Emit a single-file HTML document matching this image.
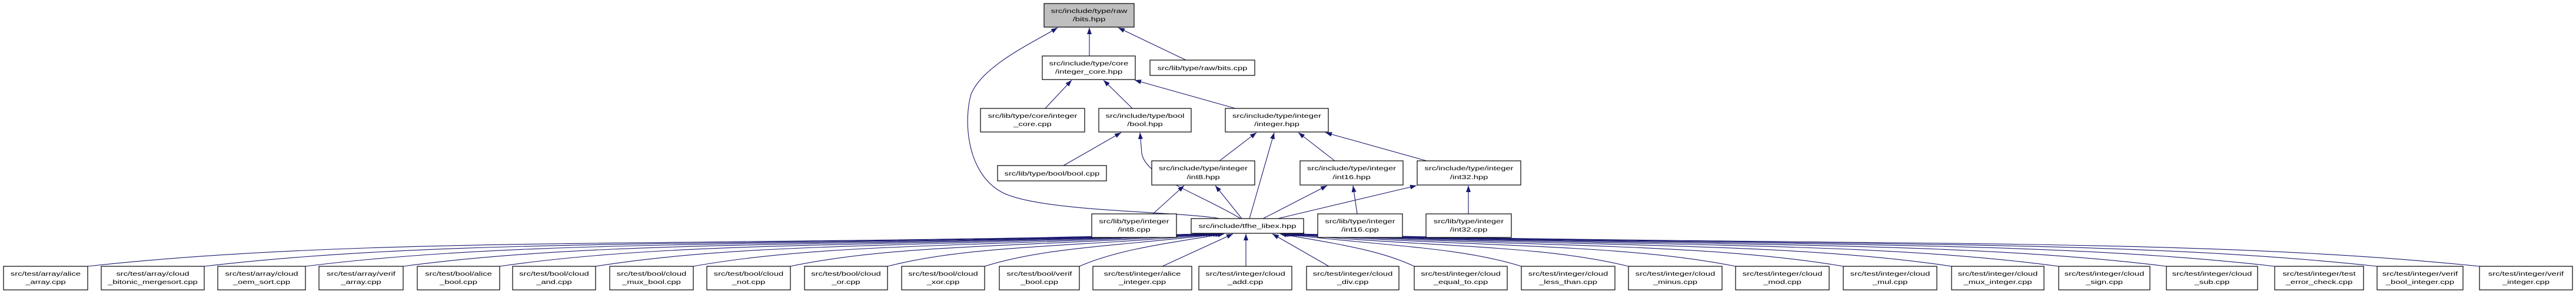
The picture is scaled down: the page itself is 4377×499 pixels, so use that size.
<!DOCTYPE html>
<html><head><meta charset="utf-8"><style>
html,body{margin:0;padding:0;background:#fff;}
svg{display:block;}
text{font-family:"Liberation Sans",sans-serif;font-size:10px;fill:#000;text-anchor:middle;}
.b{fill:#fff;stroke:#000;stroke-width:1.2;}
.e{fill:none;stroke:#191970;stroke-width:1.1;marker-end:url(#a);}
</style></head><body>
<svg width="4377" height="499" viewBox="0 0 4377 499" xmlns="http://www.w3.org/2000/svg">
<defs><marker id="a" markerUnits="userSpaceOnUse" markerWidth="12" markerHeight="8" refX="11" refY="4" orient="auto"><path d="M0,0 L11,4 L0,8 z" fill="#191970"/></marker></defs>

<!-- upper edges -->
<path class="e" d="M1851,95 L1851,47"/>
<path class="e" d="M2015,102 L1900,47"/>
<path class="e" d="M2072,371 C2000,358 1760,360 1700,325 C1640,290 1638,200 1650,160 C1670,110 1760,70 1797,47"/>
<path class="e" d="M1776,184 L1821,136"/>
<path class="e" d="M1924,184 L1875,136"/>
<path class="e" d="M2099,184 L1928,136"/>
<path class="e" d="M1807,281 L1905,225"/>
<path class="e" d="M2108,371 C2040,330 1945,300 1940,260 L1937,225"/>
<path class="e" d="M2072,273 L2135,225"/>
<path class="e" d="M2123,371 L2165,225"/>
<path class="e" d="M2268,273 L2206,225"/>
<path class="e" d="M2424,273 L2252,225"/>
<path class="e" d="M1959,363 L2012,315"/>
<path class="e" d="M2110,371 L2065,315"/>
<path class="e" d="M2146,371 L2255,315"/>
<path class="e" d="M2171,371 L2407,315"/>
<path class="e" d="M2306,363 L2299,315"/>
<path class="e" d="M2495,363 L2495,315"/>

<!-- bottom edges -->
<path class="e" d="M149,452 C622,400 1189,420 2040,397"/>
<path class="e" d="M347,452 C771,402 1280,420 2044,397"/>
<path class="e" d="M519,452 C901,404 1360,420 2048,397"/>
<path class="e" d="M685,452 C1027,406 1437,420 2052,397"/>
<path class="e" d="M849,452 C1151,408 1513,420 2056,397"/>
<path class="e" d="M1012,452 C1274,410 1588,420 2060,397"/>
<path class="e" d="M1178,452 C1400,412 1665,420 2064,397"/>
<path class="e" d="M1343,452 C1524,414 1742,420 2068,397"/>
<path class="e" d="M1508,452 C1649,416 1818,420 2072,397"/>
<path class="e" d="M1673,452 C1774,420 1895,418 2076,397"/>
<path class="e" d="M1834,452 C1896,425 1969,415 2080,397"/>
<path class="e" d="M1975,452 L2095,397"/>
<path class="e" d="M2117,452 L2117,397"/>
<path class="e" d="M2258,452 L2162,397"/>
<path class="e" d="M2403,452 C2346,425 2278,415 2175,397"/>
<path class="e" d="M2585,452 C2483,420 2361,418 2178,397"/>
<path class="e" d="M2767,452 C2621,416 2445,420 2181,397"/>
<path class="e" d="M2949,452 C2758,414 2528,420 2184,397"/>
<path class="e" d="M3132,452 C2896,412 2612,420 2187,397"/>
<path class="e" d="M3316,452 C3034,410 2697,420 2190,397"/>
<path class="e" d="M3498,452 C3172,408 2780,420 2193,397"/>
<path class="e" d="M3681,452 C3310,406 2864,420 2196,397"/>
<path class="e" d="M3865,452 C3448,404 2949,420 2199,397"/>
<path class="e" d="M4039,452 C3580,402 3029,420 2202,397"/>
<path class="e" d="M4213,452 C3711,400 3109,420 2205,397"/>

<!-- upper nodes -->
<rect x="1774" y="6" width="153" height="40" fill="#bfbfbf" stroke="#000" stroke-width="1.2"/>
<g transform="translate(1850.5,0) scale(1.47,1)"><text y="22">src/include/type/raw</text><text y="36">/bits.hpp</text></g>

<rect class="b" x="1771" y="95" width="158" height="40"/>
<g transform="translate(1850,0) scale(1.47,1)"><text y="111">src/include/type/core</text><text y="125">/integer_core.hpp</text></g>

<rect class="b" x="1954" y="102" width="178" height="26"/>
<g transform="translate(2043,0) scale(1.47,1)"><text y="119">src/lib/type/raw/bits.cpp</text></g>

<rect class="b" x="1666" y="184" width="177" height="40"/>
<g transform="translate(1754.5,0) scale(1.47,1)"><text y="200">src/lib/type/core/integer</text><text y="214">_core.cpp</text></g>

<rect class="b" x="1867" y="184" width="157" height="40"/>
<g transform="translate(1945.5,0) scale(1.47,1)"><text y="200">src/include/type/bool</text><text y="214">/bool.hpp</text></g>

<rect class="b" x="2082" y="184" width="175" height="40"/>
<g transform="translate(2169.5,0) scale(1.47,1)"><text y="200">src/include/type/integer</text><text y="214">/integer.hpp</text></g>

<rect class="b" x="1695" y="281" width="185" height="26"/>
<g transform="translate(1787.5,0) scale(1.47,1)"><text y="298">src/lib/type/bool/bool.cpp</text></g>

<rect class="b" x="1957" y="273" width="175" height="41"/>
<g transform="translate(2044.5,0) scale(1.47,1)"><text y="289">src/include/type/integer</text><text y="304">/int8.hpp</text></g>

<rect class="b" x="2209" y="273" width="175" height="41"/>
<g transform="translate(2296.5,0) scale(1.47,1)"><text y="289">src/include/type/integer</text><text y="304">/int16.hpp</text></g>

<rect class="b" x="2408" y="273" width="176" height="41"/>
<g transform="translate(2496,0) scale(1.47,1)"><text y="289">src/include/type/integer</text><text y="304">/int32.hpp</text></g>

<rect class="b" x="1855" y="363" width="144" height="40"/>
<g transform="translate(1927,0) scale(1.47,1)"><text y="379">src/lib/type/integer</text><text y="393">/int8.cpp</text></g>

<rect class="b" x="2024" y="371" width="191" height="25"/>
<g transform="translate(2119.5,0) scale(1.47,1)"><text y="387">src/include/tfhe_libex.hpp</text></g>

<rect class="b" x="2239" y="363" width="144" height="40"/>
<g transform="translate(2311,0) scale(1.47,1)"><text y="379">src/lib/type/integer</text><text y="393">/int16.cpp</text></g>

<rect class="b" x="2423" y="363" width="145" height="40"/>
<g transform="translate(2495.5,0) scale(1.47,1)"><text y="379">src/lib/type/integer</text><text y="393">/int32.cpp</text></g>

<!-- bottom nodes -->
<rect class="b" x="6" y="452" width="143" height="40"/><g transform="translate(77.5,0) scale(1.47,1)"><text y="468">src/test/array/alice</text><text y="482">_array.cpp</text></g>
<rect class="b" x="172" y="452" width="175" height="40"/><g transform="translate(259.5,0) scale(1.47,1)"><text y="468">src/test/array/cloud</text><text y="482">_bitonic_mergesort.cpp</text></g>
<rect class="b" x="370" y="452" width="149" height="40"/><g transform="translate(444.5,0) scale(1.47,1)"><text y="468">src/test/array/cloud</text><text y="482">_oem_sort.cpp</text></g>
<rect class="b" x="542" y="452" width="143" height="40"/><g transform="translate(613.5,0) scale(1.47,1)"><text y="468">src/test/array/verif</text><text y="482">_array.cpp</text></g>
<rect class="b" x="709" y="452" width="140" height="40"/><g transform="translate(779,0) scale(1.47,1)"><text y="468">src/test/bool/alice</text><text y="482">_bool.cpp</text></g>
<rect class="b" x="871" y="452" width="141" height="40"/><g transform="translate(941.5,0) scale(1.47,1)"><text y="468">src/test/bool/cloud</text><text y="482">_and.cpp</text></g>
<rect class="b" x="1036" y="452" width="142" height="40"/><g transform="translate(1107,0) scale(1.47,1)"><text y="468">src/test/bool/cloud</text><text y="482">_mux_bool.cpp</text></g>
<rect class="b" x="1201" y="452" width="142" height="40"/><g transform="translate(1272,0) scale(1.47,1)"><text y="468">src/test/bool/cloud</text><text y="482">_not.cpp</text></g>
<rect class="b" x="1367" y="452" width="141" height="40"/><g transform="translate(1437.5,0) scale(1.47,1)"><text y="468">src/test/bool/cloud</text><text y="482">_or.cpp</text></g>
<rect class="b" x="1532" y="452" width="141" height="40"/><g transform="translate(1602.5,0) scale(1.47,1)"><text y="468">src/test/bool/cloud</text><text y="482">_xor.cpp</text></g>
<rect class="b" x="1698" y="452" width="136" height="40"/><g transform="translate(1766,0) scale(1.47,1)"><text y="468">src/test/bool/verif</text><text y="482">_bool.cpp</text></g>
<rect class="b" x="1857" y="452" width="168" height="40"/><g transform="translate(1941,0) scale(1.47,1)"><text y="468">src/test/integer/alice</text><text y="482">_integer.cpp</text></g>
<rect class="b" x="2037" y="452" width="158" height="40"/><g transform="translate(2116,0) scale(1.47,1)"><text y="468">src/test/integer/cloud</text><text y="482">_add.cpp</text></g>
<rect class="b" x="2220" y="452" width="157" height="40"/><g transform="translate(2298.5,0) scale(1.47,1)"><text y="468">src/test/integer/cloud</text><text y="482">_div.cpp</text></g>
<rect class="b" x="2403" y="452" width="158" height="40"/><g transform="translate(2482,0) scale(1.47,1)"><text y="468">src/test/integer/cloud</text><text y="482">_equal_to.cpp</text></g>
<rect class="b" x="2585" y="452" width="159" height="40"/><g transform="translate(2664.5,0) scale(1.47,1)"><text y="468">src/test/integer/cloud</text><text y="482">_less_than.cpp</text></g>
<rect class="b" x="2767" y="452" width="159" height="40"/><g transform="translate(2846.5,0) scale(1.47,1)"><text y="468">src/test/integer/cloud</text><text y="482">_minus.cpp</text></g>
<rect class="b" x="2949" y="452" width="159" height="40"/><g transform="translate(3028.5,0) scale(1.47,1)"><text y="468">src/test/integer/cloud</text><text y="482">_mod.cpp</text></g>
<rect class="b" x="3132" y="452" width="159" height="40"/><g transform="translate(3211.5,0) scale(1.47,1)"><text y="468">src/test/integer/cloud</text><text y="482">_mul.cpp</text></g>
<rect class="b" x="3316" y="452" width="157" height="40"/><g transform="translate(3394.5,0) scale(1.47,1)"><text y="468">src/test/integer/cloud</text><text y="482">_mux_integer.cpp</text></g>
<rect class="b" x="3498" y="452" width="155" height="40"/><g transform="translate(3575.5,0) scale(1.47,1)"><text y="468">src/test/integer/cloud</text><text y="482">_sign.cpp</text></g>
<rect class="b" x="3681" y="452" width="155" height="40"/><g transform="translate(3758.5,0) scale(1.47,1)"><text y="468">src/test/integer/cloud</text><text y="482">_sub.cpp</text></g>
<rect class="b" x="3865" y="452" width="151" height="40"/><g transform="translate(3940.5,0) scale(1.47,1)"><text y="468">src/test/integer/test</text><text y="482">_error_check.cpp</text></g>
<rect class="b" x="4039" y="452" width="146" height="40"/><g transform="translate(4112,0) scale(1.47,1)"><text y="468">src/test/integer/verif</text><text y="482">_bool_integer.cpp</text></g>
<rect class="b" x="4213" y="452" width="158" height="40"/><g transform="translate(4292,0) scale(1.47,1)"><text y="468">src/test/integer/verif</text><text y="482">_integer.cpp</text></g>
</svg>
</body></html>
